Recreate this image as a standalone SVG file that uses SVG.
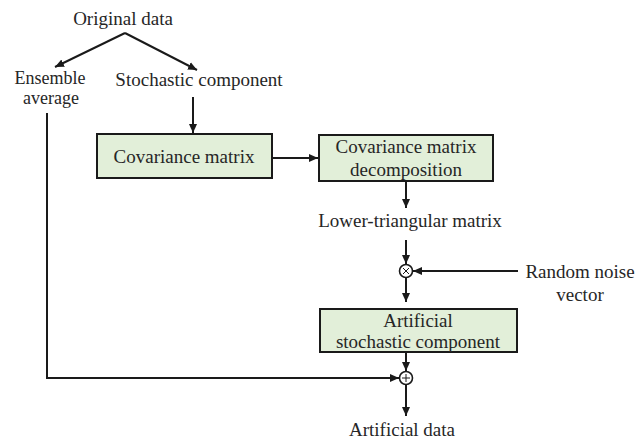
<svg xmlns="http://www.w3.org/2000/svg" width="638" height="441" viewBox="0 0 638 441">
  <style>
    text { font-family: "Liberation Serif", "Times New Roman", serif; font-size: 19px; fill: #262626; text-anchor: middle; }
    .tight { font-size: 18px; }
    .box { fill: #e2efd9; stroke: #1a1a1a; stroke-width: 2; }
    .edge { fill: none; stroke: #1a1a1a; stroke-width: 2; }
    .op { fill: #ffffff; stroke: #1a1a1a; stroke-width: 1.6; }
    .sym { fill: none; stroke: #1a1a1a; stroke-width: 1; }
  </style>
  <defs>
    <marker id="arrow" markerUnits="userSpaceOnUse" markerWidth="10" markerHeight="10" viewBox="0 0 10 10" refX="9" refY="5" orient="auto">
      <path d="M0,1 L9,5 L0,9 Z" fill="#1a1a1a"/>
    </marker>
  </defs>
  <rect width="638" height="441" fill="#ffffff"/>

  <!-- connectors -->
  <g id="connectors">
    <line class="edge" x1="125" y1="33" x2="55" y2="67" marker-end="url(#arrow)"/>
    <line class="edge" x1="125" y1="33" x2="197" y2="70" marker-end="url(#arrow)"/>
    <line class="edge" x1="193" y1="97" x2="193" y2="133" marker-end="url(#arrow)"/>
    <line class="edge" x1="272" y1="158" x2="318" y2="158" marker-end="url(#arrow)"/>
    <line class="edge" x1="406" y1="181" x2="406" y2="208" marker-end="url(#arrow)"/>
    <line class="edge" x1="406" y1="240" x2="406" y2="264" marker-end="url(#arrow)"/>
    <line class="edge" x1="518" y1="271" x2="413" y2="271" marker-end="url(#arrow)"/>
    <line class="edge" x1="406" y1="277.5" x2="406" y2="302" marker-end="url(#arrow)"/>
    <line class="edge" x1="406" y1="352" x2="406" y2="371" marker-end="url(#arrow)"/>
    <polyline class="edge" points="47,113 47,378 399,378" marker-end="url(#arrow)"/>
    <line class="edge" x1="406" y1="384.5" x2="406" y2="416" marker-end="url(#arrow)"/>
  </g>

  <g id="original-data">
    <text x="123" y="25">Original data</text>
  </g>

  <g id="ensemble-average">
    <text class="tight" x="50" y="84">Ensemble</text>
    <text class="tight" x="51" y="104">average</text>
  </g>

  <g id="stochastic-component">
    <text x="199" y="86">Stochastic component</text>
  </g>

  <g id="covariance-matrix">
    <rect class="box" x="97" y="134" width="175" height="44"/>
    <text x="184" y="163">Covariance matrix</text>
  </g>

  <g id="covariance-decomposition">
    <rect class="box" x="319" y="135" width="174" height="46"/>
    <text x="406" y="153">Covariance matrix</text>
    <text x="406" y="176">decomposition</text>
  </g>

  <g id="lower-triangular">
    <text x="410" y="227">Lower-triangular matrix</text>
  </g>

  <g id="multiply">
    <circle class="op" cx="406" cy="271" r="6.5"/>
    <path class="sym" d="M403,268 L409,274 M409,268 L403,274"/>
  </g>

  <g id="random-noise">
    <text x="580" y="278">Random noise</text>
    <text x="580" y="301">vector</text>
  </g>

  <g id="artificial-stochastic">
    <rect class="box" x="320" y="309" width="197" height="43"/>
    <text x="418" y="327">Artificial</text>
    <text x="418" y="348">stochastic component</text>
  </g>

  <g id="add">
    <circle class="op" cx="406" cy="378" r="6.5"/>
    <path class="sym" d="M402,378 L410,378 M406,374 L406,382"/>
  </g>

  <g id="artificial-data">
    <text x="402" y="436">Artificial data</text>
  </g>
</svg>
